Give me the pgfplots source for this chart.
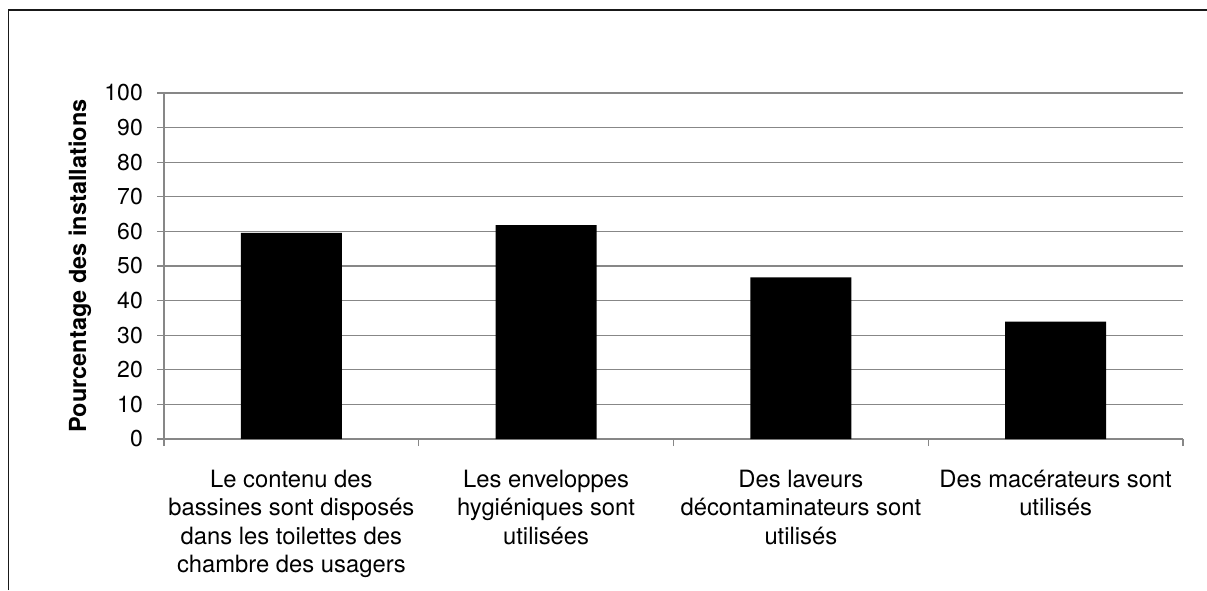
\documentclass[border=0pt]{standalone}
\usepackage{fontspec}
\setmainfont{TeX Gyre Heros}
\usepackage{pgfplots}
\pgfplotsset{compat=1.18}
\definecolor{gridgray}{RGB}{135,135,135}
\begin{document}
\begin{tikzpicture}[x=1pt,y=1pt]
\useasboundingbox (0,0) rectangle (1207,590);
\draw[line width=1.2pt, black!90] (8.3,0) -- (8.3,580) -- (1207,580);
\begin{axis}[
  at={(164pt,151pt)}, anchor=south west,
  scale only axis, width=1019pt, height=346pt,
  xmin=-0.5, xmax=3.5, ymin=0, ymax=100,
  axis x line=bottom, axis y line=left,
  axis line style={-, draw=gridgray, line width=1.3pt},
  ymajorgrids=true,
  grid style={draw=gridgray, line width=1.3pt},
  ytick={0,10,...,100},
  xtick={0,1,2,3},
  xticklabels={{Le contenu des\\bassines sont disposés\\dans les toilettes des\\chambre des usagers},
               {Les enveloppes\\hygiéniques sont\\utilisées},
               {Des laveurs\\décontaminateurs sont\\utilisés},
               {Des macérateurs sont\\utilisés}},
  minor xtick={-0.5,0.5,1.5,2.5,3.5},
  tick align=outside,
  major tick length=7pt, minor tick length=7pt,
  x tick style={draw=none},
  minor x tick style={draw=gridgray, line width=1.3pt},
  y tick style={draw=gridgray, line width=1.3pt},
  /pgf/number format/assume math mode=true,
  ticklabel style={font=\fontsize{23}{28}\selectfont, text=black},
  xticklabel style={align=center, inner sep=0pt, anchor=north, yshift=-24pt,
    font=\fontsize{23.8}{28.3}\selectfont},
  yticklabel style={inner sep=0pt, anchor=east, xshift=-14pt},
  ylabel={Pourcentage des installations},
  ylabel style={at={(axis description cs:-0.0824,0.5)}, anchor=center, rotate=0,
    font=\fontsize{23.5}{28}\selectfont\bfseries},
  clip=false,
]
\addplot[ybar, bar width=0.397, fill=black, draw=none] coordinates {
  (0,59.6) (1,61.8) (2,46.7) (3,33.9)
};
\end{axis}
\end{tikzpicture}
\end{document}
